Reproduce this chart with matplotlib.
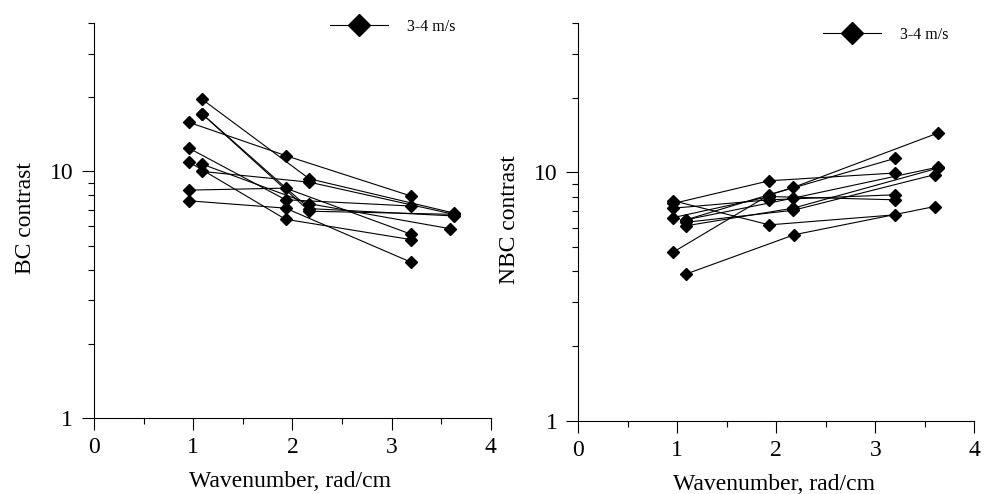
import matplotlib.pyplot as plt
from matplotlib.lines import Line2D
from matplotlib.ticker import FixedLocator, NullFormatter

plt.rcParams['font.family'] = ['Liberation Serif', 'DejaVu Serif']

# wavenumbers, rad/cm (two sets of runs)
k_a = [0.96, 1.93, 3.2]
k_b = [1.09, 2.17, 3.63]

# left panel: BC contrast
bc_x = [k_a, k_a, k_a, k_a, k_a,
        k_b, k_b, k_b, [1.09, 2.17, 3.59], k_b]
bc_y = [[15.8, 11.6, 7.94],
        [12.4, 7.68, 7.24],
        [10.9, 6.4, 5.29],
        [8.4, 8.56, 5.56],
        [7.6, 7.1, 4.28],
        [19.6, 9.34, 6.78],
        [17.1, 7.07, 6.6],
        [17.1, 6.9, 6.7],
        [10.7, 7.4, 5.86],
        [10.0, 9.05, 6.7]]

# right panel: NBC contrast
nbc_x = [k_a, k_a, k_a, k_a, k_a,
         [1.09, 2.18, 3.6], k_b, k_b, [1.09, 2.17, 3.6], k_b]
nbc_y = [[7.69, 6.15, 6.75],
         [4.78, 8.13, 11.4],
         [7.5, 9.26, 9.95],
         [7.18, 7.76, 8.13],
         [6.58, 8.0, 7.76],
         [3.9, 5.61, 7.29],
         [6.45, 8.7, 14.4],
         [6.1, 7.18, 10.4],
         [6.3, 7.04, 9.8],
         [6.45, 7.88, 10.5]]

legend_label = '3-4 m/s'
y_labels = ['BC contrast', 'NBC contrast']

fig = plt.figure(figsize=(9.86, 4.94), dpi=100)
ax1 = fig.add_axes([0.0956, 0.1538, 0.402, 0.7996])
ax2 = fig.add_axes([0.5865, 0.1484, 0.4016, 0.805])

panels = [(ax1, bc_x, bc_y, y_labels[0], (0.595, 0.99)),
          (ax2, nbc_x, nbc_y, y_labels[1], (0.618, 0.97))]

for ax, xs, ys, ylab, leg_pos in panels:
    for x, y in zip(xs, ys):
        ax.plot(x, y, color='black', lw=0.8, marker='D', ms=6.5,
                mec='black', mfc='black')
    ax.set_yscale('log')
    ax.set_xlim(0, 4)
    ax.set_ylim(1, 40)
    ax.spines['top'].set_visible(False)
    ax.spines['right'].set_visible(False)
    for s in ['left', 'bottom']:
        ax.spines[s].set_linewidth(0.8)

    ax.xaxis.set_major_locator(FixedLocator([0, 1, 2, 3, 4]))
    ax.xaxis.set_minor_locator(FixedLocator([0.5, 1.5, 2.5, 3.5]))
    ax.yaxis.set_major_locator(FixedLocator([1, 10]))
    ax.yaxis.set_minor_locator(FixedLocator([2, 3, 4, 5, 6, 7, 8, 9, 20, 30, 40]))
    ax.yaxis.set_minor_formatter(NullFormatter())
    ax.set_yticklabels(['1', '10'])
    ax.tick_params(which='major', direction='out', length=8.6, width=0.8,
                   labelsize=17)
    ax.tick_params(which='minor', direction='out', length=4.3, width=0.8)
    ax.tick_params(axis='x', which='major', pad=5)
    ax.tick_params(axis='y', which='major', pad=6.5)

    ax.set_xlabel('Wavenumber, rad/cm', fontsize=17)
    ax.set_ylabel(ylab, fontsize=17)
    ax.xaxis.set_label_coords(0.495, -0.135)
    ax.yaxis.set_label_coords(-0.148, 0.505)

    handle = Line2D([], [], color='black', lw=0.8, marker='D', ms=11,
                    mfc='black', mec='black')
    ax.legend([handle], [legend_label], loc='center left',
              bbox_to_anchor=leg_pos, frameon=False, fontsize=11.5,
              handlelength=3.6, handletextpad=1.2, borderpad=0,
              borderaxespad=0)

fig.savefig('out.png', dpi=100)
